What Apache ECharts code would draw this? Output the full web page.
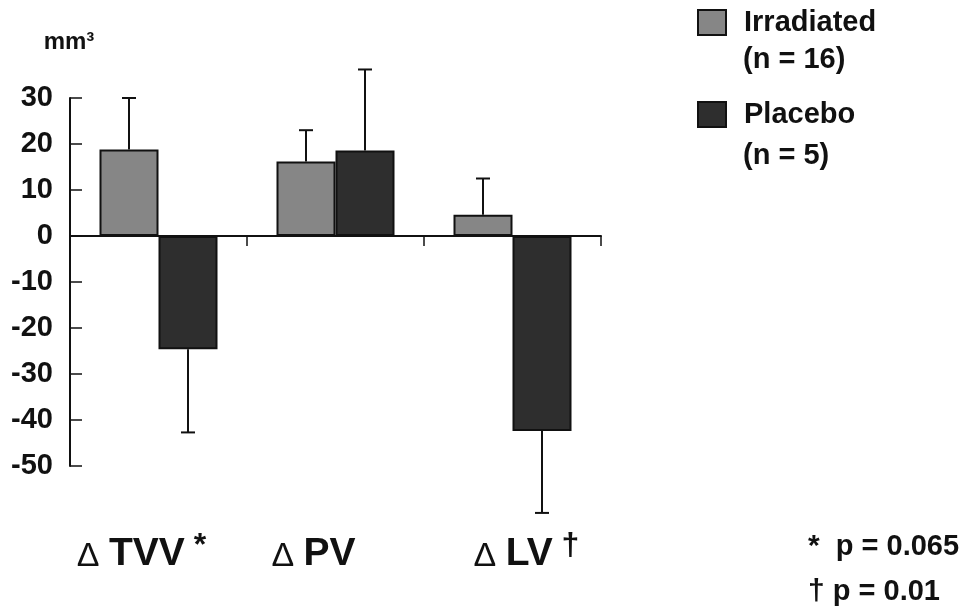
<!DOCTYPE html>
<html>
<head>
<meta charset="utf-8">
<script src="https://cdn.jsdelivr.net/npm/echarts@6/dist/echarts.min.js"></script>
<style>
  html, body { margin: 0; padding: 0; background: #ffffff; }
  #chart { width: 976px; height: 613px; }
</style>
</head>
<body>
<div id="chart"></div>
<script>
// Change in volume (mm³) per measure, mean ± SD
const categories = ['TVV', 'PV', 'LV'];
const categoryMarks = ['*', '', '†'];
const irradiated = [18.8, 16.2, 4.6];
const irradiatedSD = [11.2, 6.8, 7.9];
const placebo = [-24.6, 18.6, -42.4];
const placeboSD = [18.1, 17.6, 17.8];
const groupNames = ['Irradiated', 'Placebo'];
const groupSizes = [16, 5];
const yMin = -50, yMax = 30, yStep = 10;
const footnotes = [['*', 'p = 0.065'], ['†', 'p = 0.01']];

// layout / style
const FONT = '"Liberation Sans", Arial, Helvetica, sans-serif';
const INK = '#111111';
const BAR_W = 59;
const labelShift = [-17, -22, 14];
const colors = ['#868686', '#2e2e2e'];

const chart = echarts.init(document.getElementById('chart'), null, { renderer: 'canvas' });

function errorBars(values, sds, side) {
  return {
    type: 'custom',
    xAxisIndex: 0,
    yAxisIndex: 0,
    clip: false,
    z: 5,
    silent: true,
    data: values.map((v, i) => [i, v, sds[i]]),
    encode: { x: 0, y: 1 },
    renderItem: function (params, api) {
      const i = api.value(0);
      const v = api.value(1);
      const sd = api.value(2);
      const end = v >= 0 ? v + sd : v - sd;
      const base = api.coord([i, v]);
      const tip = api.coord([i, end]);
      const x = base[0] + side * BAR_W / 2;
      const style = { stroke: INK, lineWidth: 2 };
      return {
        type: 'group',
        children: [
          { type: 'line', shape: { x1: x, y1: base[1], x2: x, y2: tip[1] }, style: style },
          { type: 'line', shape: { x1: x - 7, y1: tip[1], x2: x + 7, y2: tip[1] }, style: style }
        ]
      };
    }
  };
}

const option = {
  backgroundColor: '#ffffff',
  animation: false,
  grid: { left: 70, right: 375, top: 98, bottom: 147, containLabel: false },
  legend: {
    data: groupNames,
    orient: 'vertical',
    left: 697,
    top: 8,
    padding: 0,
    itemWidth: 28,
    itemHeight: 25,
    itemGap: 63,
    icon: 'rect',
    selectedMode: false,
    textStyle: { fontFamily: FONT, fontSize: 29, fontWeight: 'bold', color: INK, padding: [4, 0, 0, 13] }
  },
  xAxis: [
    {
      type: 'category',
      position: 'bottom',
      data: categories,
      boundaryGap: true,
      axisLine: { show: true, onZero: true, lineStyle: { color: INK, width: 2 } },
      axisTick: { show: true, length: 10, lineStyle: { color: INK, width: 1.5 } },
      axisLabel: { show: false },
      splitLine: { show: false }
    },
    {
      type: 'category',
      position: 'bottom',
      data: categories.map((c, i) => ({
        value: c,
        textStyle: { padding: labelShift[i] < 0 ? [0, -2 * labelShift[i], 0, 0] : [0, 0, 0, 2 * labelShift[i]] }
      })),
      boundaryGap: true,
      axisLine: { show: false, onZero: false },
      axisTick: { show: false },
      splitLine: { show: false },
      axisLabel: {
        show: true,
        interval: 0,
        margin: 64,
        formatter: function (value, idx) {
          const mark = categoryMarks[idx];
          return '{d|Δ }{t|' + value + '}' + (mark ? '{s| ' + mark + '}' : '');
        },
        rich: {
          d: { fontFamily: FONT, fontSize: 34, fontWeight: 'normal', color: INK, verticalAlign: 'bottom', lineHeight: 44 },
          t: { fontFamily: FONT, fontSize: 39, fontWeight: 'bold', color: INK, verticalAlign: 'bottom', lineHeight: 44 },
          s: { fontFamily: FONT, fontSize: 32, fontWeight: 'bold', color: INK, verticalAlign: 'top', lineHeight: 30 }
        }
      }
    }
  ],
  yAxis: {
    type: 'value',
    min: yMin,
    max: yMax,
    interval: yStep,
    name: 'mm³',
    nameLocation: 'end',
    nameGap: 44,
    nameTextStyle: { fontFamily: FONT, fontSize: 24, fontWeight: 'bold', color: INK, align: 'center', padding: [0, 0, 0, -2] },
    axisLine: { show: true, lineStyle: { color: INK, width: 2 } },
    axisTick: { show: true, inside: true, length: 12, lineStyle: { color: INK, width: 1.5 } },
    splitLine: { show: false },
    axisLabel: { fontFamily: FONT, fontSize: 29, fontWeight: 'bold', color: INK, margin: 17 }
  },
  series: [
    {
      name: groupNames[0],
      type: 'bar',
      data: irradiated,
      barWidth: BAR_W,
      barGap: '0%',
      itemStyle: { color: colors[0], borderColor: INK, borderWidth: 2 },
      z: 3
    },
    {
      name: groupNames[1],
      type: 'bar',
      data: placebo,
      barWidth: BAR_W,
      barGap: '0%',
      itemStyle: { color: colors[1], borderColor: INK, borderWidth: 2 },
      z: 3
    },
    errorBars(irradiated, irradiatedSD, -1),
    errorBars(placebo, placeboSD, 1)
  ],
  graphic: [
    ...groupSizes.map((n, i) => ({
      type: 'text',
      x: 743,
      y: i === 0 ? 60 : 156,
      style: { text: '(n = ' + n + ')', fontFamily: FONT, fontSize: 29, fontWeight: 'bold', fill: INK, verticalAlign: 'middle' }
    })),
    ...footnotes.map((f, i) => ({
      type: 'text',
      x: 808,
      y: i === 0 ? 547 : 592,
      style: {
        text: '{s|' + f[0] + '}{p|' + (i === 0 ? '  ' : ' ') + f[1] + '}',
        verticalAlign: 'middle',
        rich: {
          s: { fontFamily: FONT, fontSize: 30, fontWeight: 'bold', fill: INK },
          p: { fontFamily: FONT, fontSize: 29, fontWeight: 'bold', fill: INK }
        }
      }
    }))
  ]
};

chart.setOption(option);
</script>
</body>
</html>
